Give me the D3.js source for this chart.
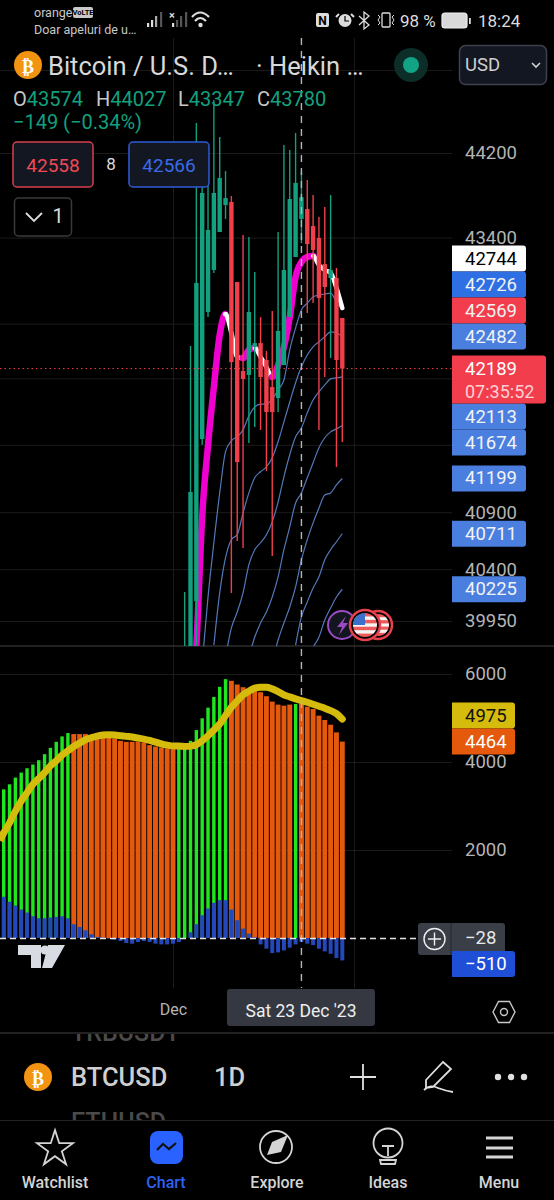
<!DOCTYPE html>
<html>
<head>
<meta charset="utf-8">
<title>BTCUSD</title>
<script src="https://cdn.jsdelivr.net/npm/d3@7"></script>
<style>
  html, body { margin: 0; background: #000; }
  svg { display: block; }
  text { font-family: Roboto, "Noto Sans", sans-serif; }
  .domain { display: none; }
</style>
</head>
<body>
<svg id="chart" width="554" height="1200"></svg>
<script>
// daily bars, 2 Nov to 30 Dec 2023
const firstDay = new Date(Date.UTC(2023, 10, 2));
const candleStartIdx = 31;

// heikin ashi candles from 3 Dec on, older ones are below the pane
const opens = [39500, 39600, 40122, 41552, 42707, 43097, 43452, 43706, 43734, 42985, 42167, 42130, 42386, 42422, 42267, 42021, 41921, 42221, 42661, 43218, 43574, 43668, 43508, 43396, 43152, 43022, 43022, 42652];
const highs = [40201, 42395, 44487, 43876, 43915, 44709, 44353, 44028, 43791, 42985, 43424, 43405, 43078, 42661, 42349, 42717, 43452, 44276, 44229, 44391, 44027, 43943, 43800, 43593, 43687, 43800, 43116, 42652];
const lows = [39400, 39500, 39600, 41500, 42661, 43069, 43452, 43574, 40192, 40646, 40584, 41516, 41660, 41633, 41265, 40515, 41795, 42221, 42661, 43218, 43347, 42698, 42791, 41633, 42112, 42285, 41301, 41525];
const closes = [39650, 41079, 42976, 43820, 43471, 43820, 43962, 43772, 42248, 41346, 42094, 42707, 42422, 42112, 41795, 41795, 42533, 43097, 43763, 43915, 43780, 43339, 43284, 42837, 42939, 43097, 42267, 42189];

// thick moving average, magenta going up and white going down
const thickMaStart = 32;
const thickMa = [39104, 39743, 40858, 41498, 42021, 42496, 42689, 42514, 42295, 42285, 42358, 42377, 42295, 42203, 42112, 42221, 42386, 42661, 43032, 43171, 43218, 43228, 43143, 43097, 43069, 42930, 42744];

// thin blue averages
const blue1Start = 34;
const blue1 = [39590, 40158, 40631, 41071, 41438, 41536, 41572, 41634, 41760, 41840, 41867, 41867, 41912, 41995, 42085, 42360, 42562, 42727, 42790, 42846, 42865, 42874, 42883, 42800, 42726];
const blue2Start = 36;
const blue2 = [39743, 40193, 40500, 40658, 40702, 40894, 41071, 41205, 41259, 41303, 41384, 41527, 41706, 41885, 42060, 42205, 42313, 42388, 42434, 42480, 42525, 42516, 42482];
const blue3Start = 38;
const blue3 = [39640, 39890, 40028, 40193, 40439, 40570, 40631, 40702, 40815, 40990, 41214, 41411, 41572, 41652, 41787, 41903, 41977, 42040, 42095, 42104, 42113];
const blue4Start = 42;
const blue4 = [39640, 39812, 39933, 40028, 40158, 40333, 40570, 40771, 40982, 41071, 41205, 41339, 41473, 41563, 41616, 41643, 41674];
const blue5Start = 46;
const blue5 = [39590, 39786, 39933, 40071, 40245, 40482, 40658, 40806, 40938, 41053, 41071, 41142, 41199];
const blue6Start = 50;
const blue6 = [39743, 39985, 40115, 40236, 40333, 40482, 40570, 40640, 40711];
const blue7Start = 53;
const blue7 = [39726, 39812, 39959, 40062, 40158, 40225];

// lower pane
const volume = [3379, 3493, 3645, 3760, 3858, 3943, 4041, 4178, 4322, 4459, 4582, 4658,
  4635, 4635, 4635, 4596, 4559, 4559, 4559, 4536, 4482, 4459, 4459, 4459, 4444, 4383, 4353, 4330, 4307, 4292,
  4330, 4330, 4482, 4726, 4993, 5235, 5479, 5708, 5883,
  5845, 5761, 5700, 5662, 5624, 5586, 5495, 5373, 5304, 5281, 5304,
  5320,
  5320, 5258, 5205, 5053, 4954, 4847, 4673, 4464];
const volumeUp = [1,1,1,1,1,1,1,1,1,1,1,1, 0,0,0,0,0,0,0,0,0,0,0,0,0,0,0,0,0,0, 1,1,1,1,1,1,1,1,1, 0,0,0,0,0,0,0,0,0,0,0, 1, 0,0,0,0,0,0,0,0];
const histogram = [936, 822, 738, 647, 578, 495, 449, 449, 464, 479, 495, 449,
  312, 251, 175, 84, 23, 8, -15, -38, -68, -114, -129, -91, -68, -91, -129, -145, -145, -129,
  -91, 0, 130, 312, 517, 670, 799, 860, 860,
  647, 403, 213, 99, 23, -145, -243, -342, -327, -282, -220,
  -145,
  -91, -129, -160, -243, -304, -358, -456, -510];
const signal = [2390, 2618, 2885, 3113, 3303, 3493, 3623, 3760, 3912, 4026, 4156, 4255, 4353, 4430, 4506, 4551, 4589, 4612, 4620, 4612, 4597, 4582, 4567, 4544, 4521, 4490, 4452, 4414, 4384, 4361,
  4361, 4353, 4361, 4392, 4483, 4597, 4726, 4863, 5054, 5244, 5388, 5525, 5609, 5678, 5700, 5700, 5662, 5601, 5525, 5480, 5434, 5396, 5358, 5312, 5267, 5221, 5168, 5099, 4975];

// axes, the ticks not in priceLabels sit behind the tags and only keep their grid line
const priceTicks = [45000, 44200, 43400, 42600, 42100, 41500, 40900, 40400, 39950];
const priceLabels = [44200, 43400, 40900, 40400, 39950];
const volumeTicks = [6000, 4000, 2000];

// price tags on the right
const tagValues = [42744, 42726, 42569, 42482, 42113, 41674, 41199, 40711, 40225];
const tagFills = ["#ffffff", "#2f6fe4", "#f23d4c", "#4a7fe0", "#4a7fe0", "#4a7fe0", "#4a7fe0", "#4a7fe0", "#4a7fe0"];
const lastPrice = 42189;
const countdown = "07:35:52";

const teal = "#12a07f", red = "#f03f4b", greyText = "#b4b4b4";

const svg = d3.select("#chart");

const dayIdx = i => d3.utcDay.offset(firstDay, i);
const x = d3.scaleUtc().domain([dayIdx(0), dayIdx(58)]).range([3.7, 342.3]);
const yPrice = d3.scaleLog().domain([44200, 39950]).range([153, 621]);
const yVol = d3.scaleLinear().domain([0, 6000]).range([938, 674]);

svg.append("defs").append("clipPath").attr("id", "pricePane")
  .append("rect").attr("x", 0).attr("y", 38).attr("width", 452).attr("height", 608);

function label(parent, px, py, txt, size, fill, anchor, weight) {
  return parent.append("text")
    .attr("x", px).attr("y", py)
    .attr("font-size", size)
    .attr("fill", fill)
    .attr("text-anchor", anchor || "start")
    .attr("font-weight", weight || 400)
    .attr("dominant-baseline", "central")
    .text(txt);
}

// grid + axes
function styleAxis(g) {
  g.selectAll(".tick line").attr("stroke", "#1b1b1b");
  g.selectAll(".tick text").attr("fill", greyText).attr("font-size", 18.5).attr("font-family", "Roboto");
}

svg.append("g")
  .attr("transform", "translate(0,988)")
  .call(d3.axisBottom(x)
    .tickValues([new Date(Date.UTC(2023, 11, 1)), new Date(Date.UTC(2024, 0, 1))])
    .tickFormat(d => d.getUTCFullYear() === 2024 ? "" : "Dec")
    .tickSize(-950).tickPadding(16))
  .call(styleAxis)
  .call(g => g.selectAll(".tick text").attr("font-size", 16));

svg.append("g")
  .attr("transform", "translate(452,0)")
  .call(d3.axisRight(yPrice).tickValues(priceTicks)
    .tickFormat(d => priceLabels.includes(d) ? d : "")
    .tickSize(-452).tickPadding(13))
  .call(styleAxis);

svg.append("g")
  .attr("transform", "translate(452,0)")
  .call(d3.axisRight(yVol).tickValues(volumeTicks).tickFormat(d3.format("d")).tickSize(-452).tickPadding(13))
  .call(styleAxis);

svg.append("line").attr("x1", 0).attr("x2", 554).attr("y1", 646).attr("y2", 646).attr("stroke", "#2e2e2e").attr("stroke-width", 1.5);

// lower pane bars, orange ones are wider than the green ones
const bars = svg.append("g");
const volWidth = i => volumeUp[i] ? 3.4 : 4.9;
bars.selectAll("rect.vol").data(volume).enter().append("rect")
  .attr("class", "vol")
  .attr("x", (d, i) => x(dayIdx(i)) - volWidth(i) / 2)
  .attr("width", (d, i) => volWidth(i))
  .attr("y", d => yVol(d))
  .attr("height", d => yVol(0) - yVol(d))
  .attr("fill", (d, i) => volumeUp[i] ? "#1fe61f" : "#e5590d");
bars.selectAll("rect.hist").data(histogram).enter().append("rect")
  .attr("class", "hist")
  .attr("x", (d, i) => x(dayIdx(i)) - 2)
  .attr("width", 4)
  .attr("y", d => Math.min(yVol(d), yVol(0)))
  .attr("height", d => Math.abs(yVol(0) - yVol(d)))
  .attr("fill", "#2447b9");

svg.append("path")
  .attr("d", d3.line().x((d, i) => x(dayIdx(i))).y(d => yVol(d)).curve(d3.curveMonotoneX)(signal))
  .attr("fill", "none")
  .attr("stroke", "#d4bb0c")
  .attr("stroke-width", 7)
  .attr("stroke-linecap", "round");
// line runs off the left edge
svg.append("line")
  .attr("x1", 0).attr("y1", yVol(signal[0]) + 8)
  .attr("x2", x(dayIdx(0))).attr("y2", yVol(signal[0]))
  .attr("stroke", "#d4bb0c").attr("stroke-width", 7);

// price pane, averages go under the candles
const pricePane = svg.append("g").attr("clip-path", "url(#pricePane)");

const blueLine = d3.line().curve(d3.curveMonotoneX);
[[blue1Start, blue1], [blue2Start, blue2], [blue3Start, blue3], [blue4Start, blue4],
 [blue5Start, blue5], [blue6Start, blue6], [blue7Start, blue7]].forEach(([start, vals]) => {
  pricePane.append("path")
    .attr("d", blueLine(vals.map((v, k) => [x(dayIdx(start + k)), yPrice(v)])))
    .attr("fill", "none")
    .attr("stroke", "#5378b8")
    .attr("stroke-width", 1.2);
});

// thick average: walk the smoothed curve and cut it where it turns, so the colour follows the slope
const thickPath = pricePane.append("path")
  .attr("d", blueLine(thickMa.map((v, k) => [x(dayIdx(thickMaStart + k)), yPrice(v)])));
const thickLen = thickPath.node().getTotalLength();
const thickSamples = d3.range(0, thickLen, 1).concat(thickLen).map(s => thickPath.node().getPointAtLength(s));
thickPath.remove();
let piece = [thickSamples[0]];
let rising = thickSamples[1].y <= thickSamples[0].y;
const drawPiece = (pts, up) => pricePane.append("path")
  .attr("d", d3.line().x(p => p.x).y(p => p.y)(pts))
  .attr("fill", "none")
  .attr("stroke", up ? "#f000d0" : "#ffffff")
  .attr("stroke-width", up ? 6.5 : 4.5)
  .attr("stroke-linecap", "round");
d3.pairs(thickSamples).forEach(([a, b]) => {
  const up = b.y <= a.y;
  if (up !== rising) {
    drawPiece(piece, rising);
    piece = [a];
    rising = up;
  }
  piece.push(b);
});
drawPiece(piece, rising);

const candles = opens.map((o, k) => ({ idx: k + candleStartIdx, o: o, h: highs[k], l: lows[k], c: closes[k] }));
const candleColor = d => d.c >= d.o ? teal : red;

pricePane.selectAll("line.wick").data(candles).enter().append("line")
  .attr("class", "wick")
  .attr("x1", d => x(dayIdx(d.idx))).attr("x2", d => x(dayIdx(d.idx)))
  .attr("y1", d => yPrice(d.h)).attr("y2", d => yPrice(d.l))
  .attr("stroke", candleColor).attr("stroke-width", 1.4);
pricePane.selectAll("rect.body").data(candles).enter().append("rect")
  .attr("class", "body")
  .attr("x", d => x(dayIdx(d.idx)) - 2.2).attr("width", 4.4)
  .attr("y", d => yPrice(Math.max(d.o, d.c)))
  .attr("height", d => Math.abs(yPrice(d.o) - yPrice(d.c)))
  .attr("fill", candleColor);

// last price dotted line
svg.append("line")
  .attr("x1", 0).attr("x2", 452)
  .attr("y1", yPrice(lastPrice)).attr("y2", yPrice(lastPrice))
  .attr("stroke", "#f03f4b").attr("stroke-width", 1).attr("stroke-dasharray", "1.5 3");

// crosshair
svg.append("line")
  .attr("x1", x(dayIdx(51))).attr("x2", x(dayIdx(51))).attr("y1", 38).attr("y2", 988)
  .attr("stroke", "#b5b5b5").attr("stroke-width", 1.4).attr("stroke-dasharray", "7 6");
svg.append("line")
  .attr("x1", 0).attr("x2", 418).attr("y1", 938.5).attr("y2", 938.5)
  .attr("stroke", "#e4e4e4").attr("stroke-width", 1.4).attr("stroke-dasharray", "6 4");

// tags with right rounded corners
function tagShape(px, py, w, h, fill) {
  const r = 3;
  svg.append("path")
    .attr("d", `M${px},${py}H${px + w - r}Q${px + w},${py} ${px + w},${py + r}V${py + h - r}Q${px + w},${py + h} ${px + w - r},${py + h}H${px}Z`)
    .attr("fill", fill);
}

// push tags apart, upward above the last price box and downward below it
const tagH = 26;
const tagY = tagValues.map(v => yPrice(v));
const boxTop = yPrice(lastPrice) - 13, boxBottom = yPrice(lastPrice) + 35;
const aboveCount = tagValues.filter(v => v > lastPrice).length;
for (let k = aboveCount - 2; k >= 0; k--) tagY[k] = Math.min(tagY[k], tagY[k + 1] - tagH);
tagY[aboveCount] = Math.max(tagY[aboveCount], boxBottom + tagH / 2);
for (let k = aboveCount + 1; k < tagY.length; k++) tagY[k] = Math.max(tagY[k], tagY[k - 1] + tagH);

tagValues.forEach((v, k) => {
  tagShape(452, tagY[k] - tagH / 2, 74, tagH, tagFills[k]);
  label(svg, 465, tagY[k], v, 18.5, tagFills[k] === "#ffffff" ? "#000" : "#f2f2f2");
});
tagShape(452, boxTop, 94, boxBottom - boxTop, "#f23d4c");
label(svg, 465, yPrice(lastPrice), lastPrice, 18.5, "#fff");
label(svg, 465, yPrice(lastPrice) + 23, countdown, 18, "#ffd0d4");

// lower pane tags
const signalY = yVol(signal[58]) - 3.5, volumeY = yVol(volume[58]);
tagShape(452, signalY - 13, 63, 26, "#d4bb0c");
label(svg, 465, signalY, signal[58], 18.5, "#111");
tagShape(452, volumeY - 13, 63, 26, "#e5590d");
label(svg, 465, volumeY, volume[58], 18.5, "#fff");

svg.append("rect").attr("x", 418).attr("y", 923).attr("width", 87).attr("height", 32).attr("rx", 3).attr("fill", "#3a3e47");
svg.append("line").attr("x1", 451).attr("x2", 451).attr("y1", 923).attr("y2", 955).attr("stroke", "#23262c");
svg.append("circle").attr("cx", 434.5).attr("cy", 939).attr("r", 10.5).attr("fill", "none").attr("stroke", "#f0f0f0").attr("stroke-width", 1.4);
svg.append("path").attr("d", "M428,939H441M434.5,932.5V945.5").attr("stroke", "#f0f0f0").attr("stroke-width", 1.4);
label(svg, 465, 938, "\u221228", 18.5, "#e8e8e8");
tagShape(452, 951, 63, 26, "#1e4fd6");
label(svg, 465, 964, "\u2212510", 18.5, "#fff");

// hexagon settings button
svg.append("path").attr("d", "M493,1012L498.5,1001.5H509.5L515,1012L509.5,1022.5H498.5Z").attr("fill", "none").attr("stroke", "#c8c8c8").attr("stroke-width", 1.4);
svg.append("circle").attr("cx", 504).attr("cy", 1012).attr("r", 3.5).attr("fill", "none").attr("stroke", "#c8c8c8").attr("stroke-width", 1.4);

// tradingview logo
svg.append("path").attr("d", "M18,945H41V968H31V955H18ZM48,945H65L52,968H42Z").attr("fill", "#d9dbe3");
svg.append("circle").attr("cx", 45).attr("cy", 950).attr("r", 4.6).attr("fill", "#d9dbe3");

// date tooltip
svg.append("rect").attr("x", 227).attr("y", 989).attr("width", 148).attr("height", 37).attr("rx", 3).attr("fill", "#353841");
label(svg, 301, 1011, "Sat 23 Dec '23", 17.5, "#eee", "middle");

// status bar
label(svg, 34, 12, "orange", 12.5, "#c9c9c9");
svg.append("rect").attr("x", 73).attr("y", 7).attr("width", 20).attr("height", 11).attr("rx", 2).attr("fill", "#c9c9c9");
label(svg, 83, 12.5, "VoLTE", 7.5, "#000", "middle", 700);
label(svg, 34, 29, "Doar apeluri de u\u2026", 12.5, "#c9c9c9");
[[147, 4], [151, 7], [155, 11], [160, 15]].forEach(([bx, bh], k) => {
  svg.append("rect").attr("x", bx).attr("y", 27 - bh).attr("width", 2.2).attr("height", bh).attr("fill", k < 2 ? "#ddd" : k === 2 ? "#aaa" : "#555");
});
[[172, 4], [176, 7], [180, 11], [185, 15]].forEach(([bx, bh], k) => {
  svg.append("rect").attr("x", bx).attr("y", 27 - bh).attr("width", 2.2).attr("height", bh).attr("fill", k === 0 ? "#ddd" : "#555");
});
label(svg, 172, 15, "\u00d7", 11, "#ddd", "middle", 700);
svg.append("path").attr("d", "M192,17Q200,8 209,17M195,21Q200,15 206,21").attr("fill", "none").attr("stroke", "#ddd").attr("stroke-width", 2.2);
svg.append("circle").attr("cx", 200.5).attr("cy", 25).attr("r", 2.2).attr("fill", "#ddd");

svg.append("rect").attr("x", 316).attr("y", 13).attr("width", 13).attr("height", 14).attr("rx", 2).attr("fill", "#ddd");
label(svg, 322.5, 20.5, "N", 12, "#000", "middle", 700);
svg.append("circle").attr("cx", 345).attr("cy", 20.5).attr("r", 6.5).attr("fill", "#ddd");
svg.append("path").attr("d", "M345,16V21H349").attr("fill", "none").attr("stroke", "#000").attr("stroke-width", 1.2);
svg.append("path").attr("d", "M339,14L336,17M351,14L354,17").attr("stroke", "#ddd").attr("stroke-width", 2);
svg.append("path").attr("d", "M359,16L369,25L364,29V12L369,16L359,25").attr("fill", "none").attr("stroke", "#ddd").attr("stroke-width", 1.3);
svg.append("rect").attr("x", 382).attr("y", 13).attr("width", 8).attr("height", 14).attr("rx", 1).attr("fill", "none").attr("stroke", "#ddd").attr("stroke-width", 1.3);
svg.append("path").attr("d", "M378,15L380,17L378,20L380,23L378,25M394,15L392,17L394,20L392,23L394,25").attr("fill", "none").attr("stroke", "#ddd");
label(svg, 400, 21, "98 %", 17, "#ddd");
svg.append("rect").attr("x", 442).attr("y", 13).attr("width", 25).attr("height", 15).attr("rx", 3).attr("fill", "#d8d8d8").attr("stroke", "#eee").attr("stroke-width", 1.2);
svg.append("rect").attr("x", 469).attr("y", 18).attr("width", 1.8).attr("height", 6).attr("fill", "#ddd");
label(svg, 478, 21, "18:24", 17, "#ddd");

// header
function btcIcon(cx, cy) {
  svg.append("circle").attr("cx", cx).attr("cy", cy).attr("r", 14).attr("fill", "#f29312");
  svg.append("text").attr("x", cx).attr("y", cy + 1).attr("text-anchor", "middle").attr("dominant-baseline", "central")
    .attr("font-size", 18).attr("font-weight", 700).attr("fill", "#fff").attr("style", "font-family:'DejaVu Sans'").text("\u20bf");
}
btcIcon(28, 65);
label(svg, 48, 66, "Bitcoin / U.S. D\u2026", 25.5, "#d8d8d8");
label(svg, 256, 66, "\u00b7 Heikin \u2026", 25.5, "#d8d8d8");
svg.append("circle").attr("cx", 411).attr("cy", 65).attr("r", 17).attr("fill", "#0c2d28");
svg.append("circle").attr("cx", 411).attr("cy", 65).attr("r", 8).attr("fill", "#12a286");
svg.append("rect").attr("x", 459.5).attr("y", 45.5).attr("width", 87).attr("height", 39).attr("rx", 6).attr("fill", "#131722").attr("stroke", "#3e424c").attr("stroke-width", 1.5);
label(svg, 465, 65, "USD", 18.5, "#d0d0d0");
svg.append("path").attr("d", "M532,63L536,67L540,63").attr("fill", "none").attr("stroke", "#d0d0d0").attr("stroke-width", 1.6);

const ohlc = label(svg, 13, 99, "", 20, teal);
[["O", "43574", 13], ["H", "44027", 96], ["L", "43347", 178], ["C", "43780", 257]].forEach(([key, val, px]) => {
  ohlc.append("tspan").attr("x", px).attr("fill", "#c8c8c8").text(key);
  ohlc.append("tspan").attr("fill", teal).text(val);
});
label(svg, 13, 122, "\u2212149 (\u22120.34%)", 20, teal);

svg.append("rect").attr("x", 13).attr("y", 142).attr("width", 80).attr("height", 45).attr("rx", 4).attr("fill", "#131722").attr("stroke", "#d8404e").attr("stroke-width", 1.5);
label(svg, 53, 165, "42558", 19, "#f04855", "middle");
label(svg, 111, 164, "8", 17, "#ddd", "middle");
svg.append("rect").attr("x", 129).attr("y", 142).attr("width", 80).attr("height", 45).attr("rx", 4).attr("fill", "#131722").attr("stroke", "#2f5bd8").attr("stroke-width", 1.5);
label(svg, 169, 165, "42566", 19, "#3a6ae8", "middle");
svg.append("rect").attr("x", 14.5).attr("y", 198).attr("width", 57).attr("height", 38).attr("rx", 4).attr("fill", "#000").attr("stroke", "#3a3a3a").attr("stroke-width", 1.5);
svg.append("path").attr("d", "M26,213L34,221L42,213").attr("fill", "none").attr("stroke", "#ddd").attr("stroke-width", 1.8);
label(svg, 58, 216, "1", 20, "#ddd", "middle");

// event badges
svg.append("circle").attr("cx", 342).attr("cy", 625).attr("r", 14).attr("fill", "#14161f").attr("stroke", "#9a4bc4").attr("stroke-width", 2);
svg.append("path").attr("d", "M346,616L337,627H342L339,635L348,623H343Z").attr("fill", "#9a4bc4");
function flag(cx, cy, r, id) {
  svg.append("circle").attr("cx", cx).attr("cy", cy).attr("r", r + 3).attr("fill", "#000").attr("stroke", "#e8404c").attr("stroke-width", 2.5);
  svg.select("defs").append("clipPath").attr("id", id).append("circle").attr("cx", cx).attr("cy", cy).attr("r", r);
  const g = svg.append("g").attr("clip-path", `url(#${id})`);
  d3.range(7).forEach(k => {
    g.append("rect").attr("x", cx - r).attr("y", cy - r + k * 2 * r / 7).attr("width", 2 * r).attr("height", 2 * r / 7 + 0.5).attr("fill", k % 2 ? "#f5f5f5" : "#ee5a5a");
  });
  g.append("rect").attr("x", cx - r).attr("y", cy - r).attr("width", r).attr("height", r).attr("fill", "#3b6fc9");
}
flag(378, 625, 11, "flagBack");
flag(365, 625, 12, "flagFront");

// symbol row
svg.append("line").attr("x1", 0).attr("x2", 554).attr("y1", 1033).attr("y2", 1033).attr("stroke", "#2e2e2e").attr("stroke-width", 1.5);
svg.append("line").attr("x1", 0).attr("x2", 554).attr("y1", 1120.5).attr("y2", 1120.5).attr("stroke", "#222");
svg.select("defs").append("clipPath").attr("id", "rowClip").append("rect").attr("x", 0).attr("y", 1034).attr("width", 554).attr("height", 86);
const row = svg.append("g").attr("clip-path", "url(#rowClip)");
label(row, 71, 1032, "TRBUSDT", 25, "#4a4a4a", "start", 500);
label(row, 71, 1122, "ETHUSD", 25, "#4a4a4a", "start", 500);
btcIcon(38, 1077);
label(svg, 71, 1077, "BTCUSD", 25.5, "#cfcfcf", "start", 500);
label(svg, 214, 1077, "1D", 25.5, "#cfcfcf", "start", 500);
svg.append("path").attr("d", "M350,1077H376M363,1064V1090").attr("stroke", "#e0e0e0").attr("stroke-width", 1.8);
svg.append("path").attr("d", "M443,1062L451,1069L433,1087L426,1088L426,1080ZM424,1090Q430,1084 438,1088Q446,1091 453,1092").attr("fill", "none").attr("stroke", "#e0e0e0").attr("stroke-width", 1.8);
[498, 511, 524].forEach(cx => svg.append("circle").attr("cx", cx).attr("cy", 1077).attr("r", 3.2).attr("fill", "#e0e0e0"));

// bottom nav
const navItems = ["Watchlist", "Chart", "Explore", "Ideas", "Menu"];
const navX = d3.scalePoint().domain(navItems).range([55, 499]);
navItems.forEach(n => label(svg, navX(n), 1182, n, 16, n === "Chart" ? "#2f62f0" : "#d4d4d4", "middle", 500));

svg.append("path").attr("d", d3.symbol(d3.symbolStar, 400)()).attr("transform", "translate(55,1149)").attr("fill", "none").attr("stroke", "#d4d4d4").attr("stroke-width", 1.8);
svg.append("rect").attr("x", 150).attr("y", 1131).attr("width", 33).attr("height", 33).attr("rx", 8).attr("fill", "#2962ff");
svg.append("path").attr("d", "M157,1150L163,1144L169,1149L176,1143").attr("fill", "none").attr("stroke", "#111").attr("stroke-width", 2.2);
svg.append("circle").attr("cx", 276).attr("cy", 1147).attr("r", 16).attr("fill", "none").attr("stroke", "#d4d4d4").attr("stroke-width", 1.8);
svg.append("path").attr("d", "M288,1135L281,1152L267,1155L272,1142Z").attr("fill", "#d4d4d4");
svg.append("circle").attr("cx", 388).attr("cy", 1143).attr("r", 14.5).attr("fill", "none").attr("stroke", "#d4d4d4").attr("stroke-width", 1.8);
svg.append("path").attr("d", "M382,1146H394M388,1146V1156M380,1160L381,1164H395L396,1160Z").attr("fill", "none").attr("stroke", "#d4d4d4").attr("stroke-width", 1.8);
[1138, 1148, 1157].forEach(hy => svg.append("rect").attr("x", 486).attr("y", hy - 1.5).attr("width", 27).attr("height", 3).attr("fill", "#d4d4d4"));
</script>
</body>
</html>
